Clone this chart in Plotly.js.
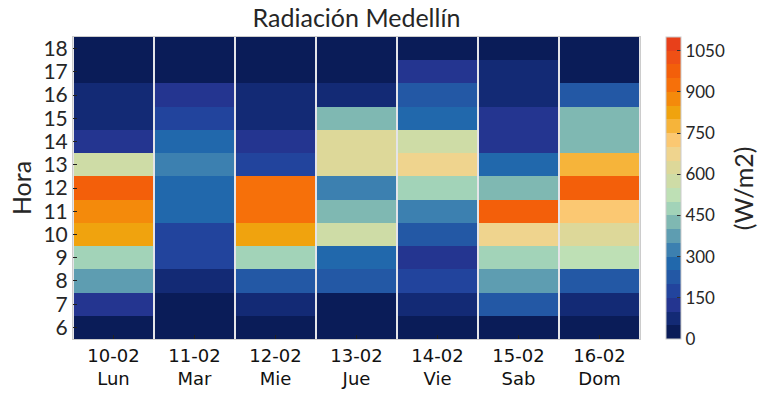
<!DOCTYPE html>
<html>
<head>
<meta charset="utf-8">
<script src="https://cdn.plot.ly/plotly-3.0.1.min.js"></script>
<style>html,body{margin:0;padding:0;background:#fff;}#chart{width:767px;height:395px;}</style>
</head>
<body>
<div id="chart"></div>
<script>
// Categories
const days = ["10-02<br>Lun", "11-02<br>Mar", "12-02<br>Mie", "13-02<br>Jue", "14-02<br>Vie", "15-02<br>Sab", "16-02<br>Dom"];
const hours = [6, 7, 8, 9, 10, 11, 12, 13, 14, 15, 16, 17, 18];

// Radiation (W/m2) per day, hours 6..18
const lun = [25, 125, 375, 475, 825, 875, 975, 575, 125, 75, 75, 20, 20];
const mar = [25, 25, 75, 175, 175, 275, 275, 325, 275, 175, 125, 20, 20];
const mie = [25, 75, 225, 475, 825, 925, 925, 175, 125, 75, 75, 20, 20];
const jue = [25, 25, 225, 275, 575, 425, 325, 625, 625, 425, 75, 20, 20];
const vie = [25, 75, 175, 125, 225, 325, 475, 675, 575, 275, 225, 125, 25];
const sab = [25, 225, 375, 475, 675, 975, 425, 275, 125, 125, 75, 75, 25];
const dom = [25, 75, 225, 525, 625, 725, 975, 775, 425, 425, 225, 20, 20];

const colorbarTicks = [0, 150, 300, 450, 600, 750, 900, 1050];

// 22 discrete colour bands (0..1100, step 50)
const bandColors = ["#0a1c58", "#132a75", "#243590", "#22449d", "#2358a5", "#2168ac", "#3c80b0", "#5e9db1",
  "#7fb8b2", "#a2d3b8", "#bee0b5", "#cedca6", "#ddd899", "#efd48e", "#fbc872", "#f6b43a",
  "#f0a30e", "#f48a0b", "#f6700a", "#f35f0a", "#ef5015", "#e8401a"];

const series = [lun, mar, mie, jue, vie, sab, dom];
const z = hours.map((h, i) => series.map(s => s[i]));

const cs = [];
bandColors.forEach((c, i) => {
  cs.push([i / bandColors.length, c]);
  cs.push([(i + 1) / bandColors.length, c]);
});

const trace = {
  type: 'heatmap',
  x: days,
  y: hours,
  z: z,
  zmin: 0,
  zmax: 1100,
  colorscale: cs,
  xgap: 2,
  ygap: 0,
  colorbar: {
    x: 1.046, xanchor: 'left', xpad: 0,
    y: 0.5, yanchor: 'middle', len: 1, lenmode: 'fraction', ypad: 0,
    thickness: 15, thicknessmode: 'pixels',
    outlinecolor: '#cccccc', outlinewidth: 1,
    tickvals: colorbarTicks,
    ticks: 'inside', ticklen: 4, tickcolor: '#333',
    tickfont: {family: 'Lato, sans-serif', size: 17, color: '#262626'}
  }
};

const layout = {
  width: 767, height: 395,
  margin: {l: 73, r: 127, t: 37, b: 56, pad: 0},
  paper_bgcolor: '#ffffff',
  plot_bgcolor: '#e4e4e8',
  title: {text: 'Radiación Medellín', x: 0.5, xref: 'paper', xanchor: 'center', y: 1, yref: 'container', yanchor: 'top', pad: {t: 9},
    font: {family: 'Lato, sans-serif', size: 25, color: '#262626'}},
  xaxis: {
    type: 'category', showgrid: false, zeroline: false,
    showline: true, mirror: true, linecolor: '#cccccc', linewidth: 1,
    ticks: 'inside', ticklen: 4, tickcolor: '#222',
    tickfont: {family: "'DejaVu Sans', sans-serif", size: 18, color: '#111'}
  },
  yaxis: {
    tickvals: hours, showgrid: false, zeroline: false,
    showline: true, mirror: true, linecolor: '#cccccc', linewidth: 1,
    ticks: 'inside', ticklen: 4, tickcolor: '#222',
    tickfont: {family: 'Lato, sans-serif', size: 21, color: '#262626'},
    title: {text: 'Hora', standoff: 4, font: {family: 'Lato, sans-serif', size: 25, color: '#262626'}}
  },
  annotations: [{
    text: '(W/m2)', xref: 'paper', yref: 'paper', x: 1.182, y: 0.5,
    xanchor: 'center', yanchor: 'middle', textangle: -90, showarrow: false,
    font: {family: 'Lato, sans-serif', size: 25, color: '#262626'}
  }]
};

Plotly.newPlot('chart', [trace], layout, {displayModeBar: false, staticPlot: true});
</script>
</body>
</html>
